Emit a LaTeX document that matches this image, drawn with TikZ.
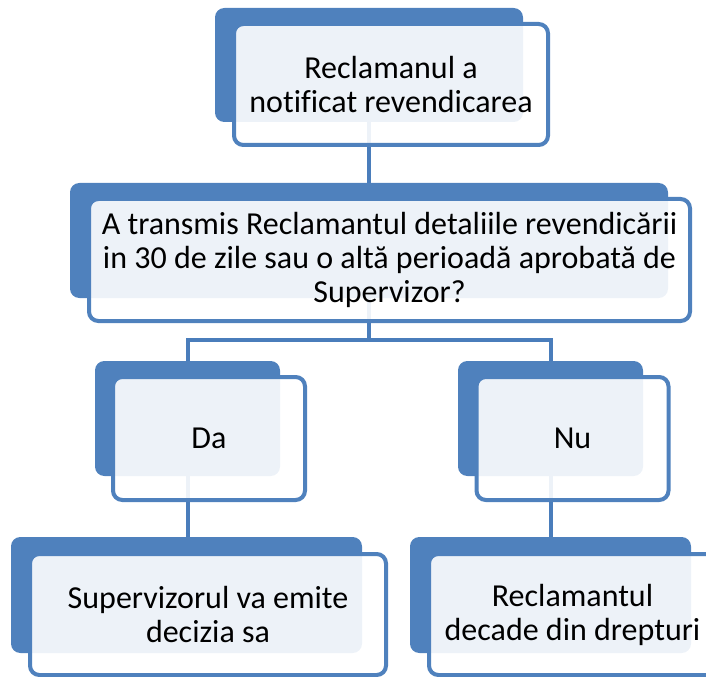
\documentclass[tikz,border=0pt]{standalone}
\usepackage{fontspec}
\setmainfont[Ligatures=NoCommon]{Carlito}
\usetikzlibrary{positioning}
\definecolor{accentblue}{RGB}{79,129,189}
\definecolor{linkblue}{RGB}{74,125,187}
\tikzset{
  backbox/.style 2 args={draw=none,fill=accentblue,rounded corners=7pt,
    minimum width=#1*0.75pt,minimum height=#2*0.75pt,inner sep=0pt},
  frontbox/.style 2 args={draw=accentblue,line width=3pt,fill=white,
    fill opacity=0.9,text opacity=1,rounded corners=7pt,
    minimum width=#1*0.75pt,minimum height=#2*0.75pt,inner sep=0pt,
    align=center,font=\fontsize{24}{25.5}\selectfont},
  link/.style={draw=linkblue,line width=3pt}
}
\begin{document}
\begin{tikzpicture}[x=0.75pt,y=-0.75pt]
  \useasboundingbox (0,0) rectangle (706,677);
  % back boxes
  \node[backbox={308}{114}] (topback) at (369,65) {};
  \node[backbox={598}{115}] (questionback) at (369,240.5) {};
  \node[backbox={185}{115}] (yesback) at (187.5,418.5) {};
  \node[backbox={185}{115}] (noback) at (550.5,418.5) {};
  \node[backbox={351}{116}] (decisionback) at (186.5,595) {};
  \node[backbox={281}{116}] (forfeitback) at (550.5,595) {};
  % connectors
  \coordinate (fork) at (369,340);
  \draw[link] (topback.south) -- (questionback.north);
  \draw[link] (questionback.south) -- (fork) -| (yesback.north);
  \draw[link] (fork) -| (noback.north);
  \draw[link] (yesback.south) -- (yesback.south |- decisionback.north);
  \draw[link] (noback.south) -- (noback.south |- forfeitback.north);
  % front boxes
  \node[frontbox={314}{121}] (topnote) at (391,84.5) {Reclamanul a\\notificat revendicarea};
  \node[frontbox={601}{122}] (question) at (389.5,260) {A transmis Reclamantul detaliile revendicării\\in 30 de zile sau o altă perioadă aprobată de\\Supervizor?};
  \node[frontbox={192}{123}] (yesbox) at (209,438.5) {Da};
  \node[frontbox={192}{123}] (nobox) at (572.5,438.5) {Nu};
  \node[frontbox={356}{121}] (decision) at (208,614.5) {Supervizorul va emite\\decizia sa};
  \node[frontbox={287}{121}] (forfeit) at (572.5,614.5) {Reclamantul\\decade din drepturi};
\end{tikzpicture}
\end{document}
